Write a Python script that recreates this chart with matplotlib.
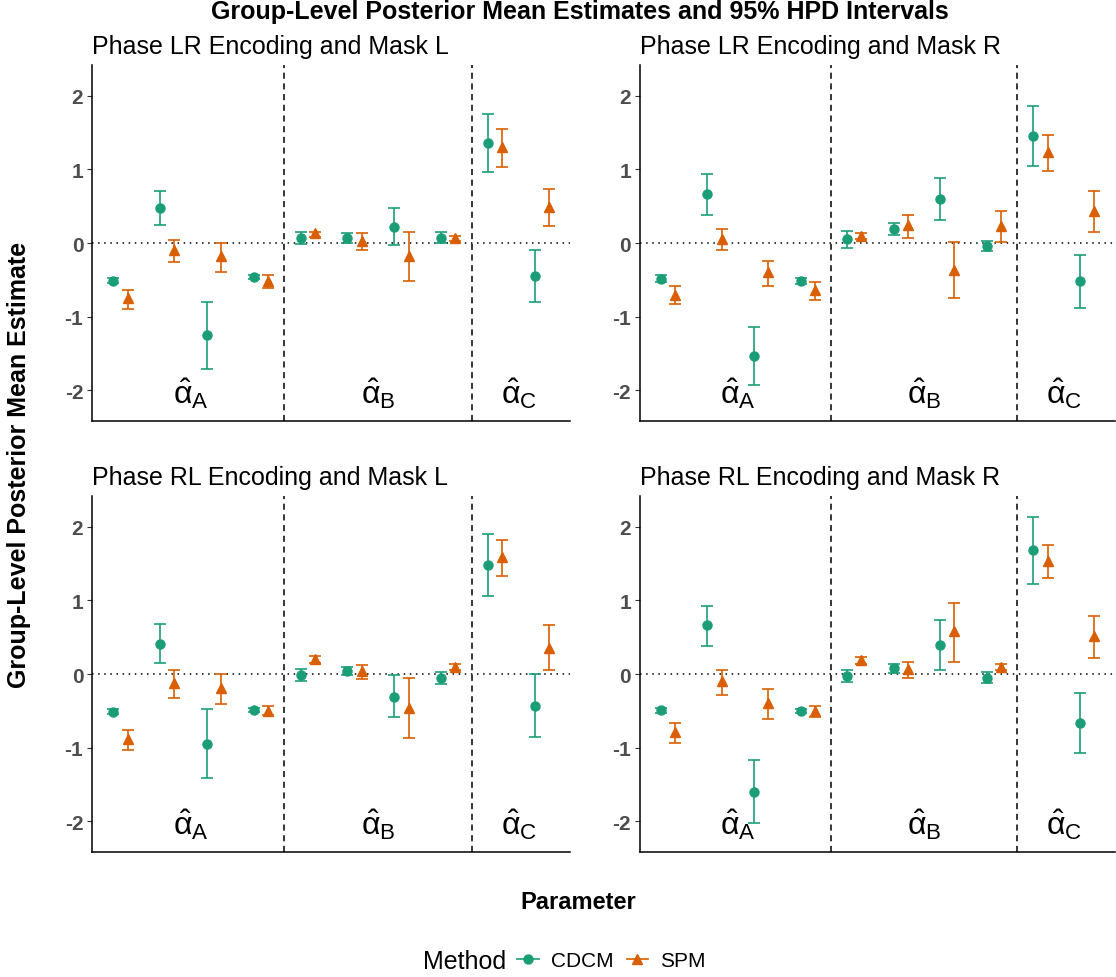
import matplotlib
matplotlib.use("Agg")
import matplotlib.pyplot as plt
from matplotlib.lines import Line2D
import numpy as np

plt.rcParams['font.family'] = ['Liberation Sans', 'DejaVu Sans']
plt.rcParams['mathtext.fontset'] = 'custom'
plt.rcParams['mathtext.rm'] = 'Liberation Sans'
plt.rcParams['mathtext.it'] = 'Liberation Sans'

# colours (Dark2)
green = "#1B9E77"
orange = "#D95F02"

params = np.arange(1, 11)
group_labels = [r"$\hat{\alpha}_{\mathrm{A}}$", r"$\hat{\alpha}_{\mathrm{B}}$", r"$\hat{\alpha}_{\mathrm{C}}$"]
group_pos = [2.5, 6.5, 9.5]
dividers = [4.5, 8.5]
yticks = [-2, -1, 0, 1, 2]

titles = ["Phase LR Encoding and Mask L", "Phase LR Encoding and Mask R",
          "Phase RL Encoding and Mask L", "Phase RL Encoding and Mask R"]

# Phase LR, Mask L
lrL_cdcm = [-0.51, 0.48, -1.25, -0.46, 0.07, 0.07, 0.22, 0.07, 1.36, -0.45]
lrL_cdcm_lo = [-0.55, 0.25, -1.71, -0.49, -0.01, 0.00, -0.03, 0.00, 0.96, -0.80]
lrL_cdcm_hi = [-0.47, 0.71, -0.80, -0.43, 0.15, 0.14, 0.47, 0.15, 1.75, -0.10]
lrL_spm = [-0.75, -0.10, -0.18, -0.52, 0.13, 0.03, -0.17, 0.07, 1.31, 0.49]
lrL_spm_lo = [-0.90, -0.26, -0.40, -0.61, 0.08, -0.10, -0.51, 0.03, 1.04, 0.23]
lrL_spm_hi = [-0.64, 0.04, 0.00, -0.44, 0.15, 0.13, 0.15, 0.10, 1.55, 0.73]

# Phase LR, Mask R
lrR_cdcm = [-0.49, 0.66, -1.54, -0.52, 0.05, 0.19, 0.60, -0.04, 1.46, -0.52]
lrR_cdcm_lo = [-0.53, 0.38, -1.93, -0.56, -0.07, 0.11, 0.31, -0.11, 1.05, -0.89]
lrR_cdcm_hi = [-0.44, 0.94, -1.14, -0.48, 0.17, 0.27, 0.88, 0.03, 1.86, -0.16]
lrR_spm = [-0.71, 0.06, -0.40, -0.64, 0.10, 0.24, -0.37, 0.23, 1.24, 0.44]
lrR_spm_lo = [-0.83, -0.10, -0.59, -0.78, 0.06, 0.07, -0.75, 0.01, 0.98, 0.15]
lrR_spm_hi = [-0.59, 0.19, -0.24, -0.53, 0.13, 0.38, 0.01, 0.43, 1.47, 0.71]

# Phase RL, Mask L
rlL_cdcm = [-0.51, 0.41, -0.95, -0.49, -0.01, 0.04, -0.31, -0.06, 1.48, -0.43]
rlL_cdcm_lo = [-0.55, 0.15, -1.41, -0.52, -0.10, -0.02, -0.59, -0.14, 1.06, -0.86]
rlL_cdcm_hi = [-0.47, 0.68, -0.48, -0.46, 0.07, 0.09, -0.02, 0.03, 1.90, 0.00]
rlL_spm = [-0.88, -0.12, -0.19, -0.50, 0.21, 0.04, -0.46, 0.10, 1.59, 0.36]
rlL_spm_lo = [-1.03, -0.33, -0.41, -0.56, 0.15, -0.07, -0.87, 0.06, 1.33, 0.05]
rlL_spm_hi = [-0.76, 0.06, 0.00, -0.43, 0.24, 0.12, -0.05, 0.13, 1.82, 0.66]

# Phase RL, Mask R
rlR_cdcm = [-0.49, 0.66, -1.60, -0.50, -0.03, 0.08, 0.40, -0.05, 1.69, -0.66]
rlR_cdcm_lo = [-0.53, 0.38, -2.03, -0.53, -0.11, 0.02, 0.05, -0.12, 1.23, -1.07]
rlR_cdcm_hi = [-0.46, 0.93, -1.17, -0.47, 0.05, 0.14, 0.74, 0.03, 2.14, -0.26]
rlR_spm = [-0.79, -0.10, -0.39, -0.50, 0.19, 0.07, 0.58, 0.10, 1.54, 0.52]
rlR_spm_lo = [-0.94, -0.28, -0.61, -0.59, 0.14, -0.05, 0.16, 0.05, 1.30, 0.22]
rlR_spm_hi = [-0.67, 0.05, -0.20, -0.43, 0.23, 0.17, 0.97, 0.13, 1.75, 0.79]

panels = [
    (lrL_cdcm, lrL_cdcm_lo, lrL_cdcm_hi, lrL_spm, lrL_spm_lo, lrL_spm_hi),
    (lrR_cdcm, lrR_cdcm_lo, lrR_cdcm_hi, lrR_spm, lrR_spm_lo, lrR_spm_hi),
    (rlL_cdcm, rlL_cdcm_lo, rlL_cdcm_hi, rlL_spm, rlL_spm_lo, rlL_spm_hi),
    (rlR_cdcm, rlR_cdcm_lo, rlR_cdcm_hi, rlR_spm, rlR_spm_lo, rlR_spm_hi),
]

fig = plt.figure(figsize=(11.16, 9.78), dpi=100)

# panel boxes in figure fractions [left, bottom, width, height]
boxes = [
    [0.0827, 0.5685, 0.4281, 0.3640],
    [0.5735, 0.5685, 0.4255, 0.3640],
    [0.0827, 0.1278, 0.4281, 0.3640],
    [0.5735, 0.1278, 0.4255, 0.3640],
]

dodge = 0.153
for box, title, data in zip(boxes, titles, panels):
    ax = fig.add_axes(box)
    c, clo, chi, s, slo, shi = [np.array(d) for d in data]

    ax.axhline(0, color="black", linestyle=(0, (1, 3)), linewidth=1.1, zorder=1)
    for d in dividers:
        ax.axvline(d, color="black", linestyle=(0, (4, 3)), linewidth=1.1, zorder=1)

    ax.errorbar(params - dodge, c, yerr=[c - clo, chi - c], fmt="o", color=green,
                markersize=6.5, capsize=4.6, elinewidth=1.2, capthick=1.2, zorder=3)
    ax.errorbar(params + dodge, s, yerr=[s - slo, shi - s], fmt="^", color=orange,
                markersize=7.5, capsize=4.6, elinewidth=1.2, capthick=1.2, zorder=3)

    for gx, gl in zip(group_pos, group_labels):
        ax.text(gx, -2.03, gl, ha="center", va="center", fontsize=23)

    ax.set_xlim(0.4, 10.6)
    ax.set_ylim(-2.42, 2.42)
    ax.set_xticks([])
    ax.set_yticks(yticks)
    ax.set_yticklabels([str(t) for t in yticks], fontsize=15, fontweight="bold", color="#4D4D4D")
    ax.tick_params(axis="y", length=3.5, width=0.8, color="#333333", pad=3)
    for sp in ["top", "right"]:
        ax.spines[sp].set_visible(False)
    for sp in ["left", "bottom"]:
        ax.spines[sp].set_linewidth(1.1)
    ax.set_title(title, loc="left", fontsize=18, pad=9)

fig.text(0.52, 0.988, "Group-Level Posterior Mean Estimates and 95% HPD Intervals",
         ha="center", va="center", fontsize=18, fontweight="bold")
fig.text(0.017, 0.5245, "Group-Level Posterior Mean Estimate", rotation=90,
         ha="center", va="center", fontsize=18, fontweight="bold")
fig.text(0.518, 0.0777, "Parameter", ha="center", va="center", fontsize=17, fontweight="bold")

handles = [
    Line2D([], [], color=green, marker="o", markersize=6.5, linewidth=1.2),
    Line2D([], [], color=orange, marker="^", markersize=7.5, linewidth=1.2),
]
leg = fig.legend(handles, ["CDCM", "SPM"], loc="center left",
                 bbox_to_anchor=(517 / 1116, 1 - 962 / 978),
                 ncol=2, frameon=False, fontsize=15, handlelength=1.05,
                 handletextpad=0.58, columnspacing=0.62, borderpad=0, borderaxespad=0)
fig.text(506 / 1116, 1 - 962 / 978, "Method", ha="right", va="center", fontsize=18)

fig.savefig("out.png", dpi=100)
